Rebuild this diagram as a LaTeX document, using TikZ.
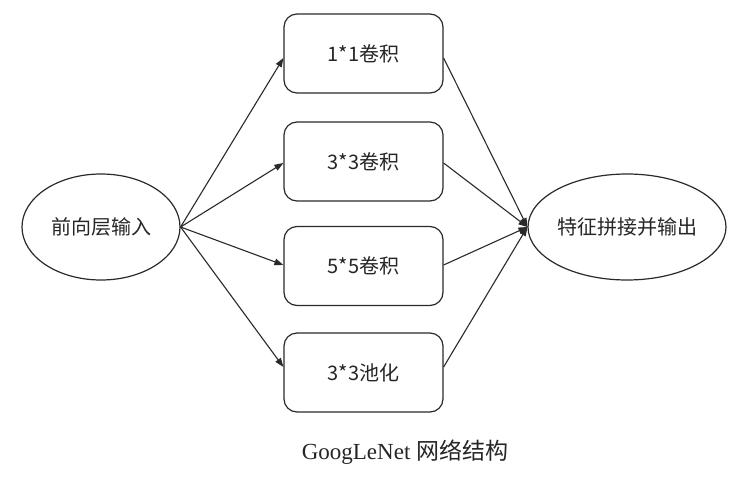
\documentclass[tikz,border=0pt]{standalone}
\usepackage{fontspec}
\setmainfont{Liberation Serif}
\newfontfamily\cjk{Noto Sans CJK SC}
\usetikzlibrary{arrows.meta,shapes.geometric}
\definecolor{ln}{HTML}{2A2A2A}
\begin{document}
\begin{tikzpicture}[x=1pt,y=-1pt,
  ell/.style={ellipse,draw=ln,line width=1.2pt,inner sep=0pt,minimum width=#1,minimum height=106pt,font=\cjk\fontsize{20}{24}\selectfont,text=black!85},
  procbox/.style={rectangle,rounded corners=13pt,draw=ln,line width=1.2pt,minimum width=159pt,minimum height=79pt,font=\cjk\fontsize{20}{24}\selectfont,text=black!85},
  conn/.style={draw=ln,line width=1.1pt,-{Triangle[length=9pt,width=6.5pt]}}]
\useasboundingbox[fill=white] (0,0) rectangle (736,482);
\node[ell=158pt] (in) at (101,227) {前向层输入};
\node[ell=160pt] (out) at (627,227) {特征拼接并输出};
\node[procbox] (b1) at (363.5,53.5) {1*1卷积};
\node[procbox] (b2) at (363.5,161.5) {3*3卷积};
\node[procbox] (b3) at (363.5,266) {5*5卷积};
\node[procbox] (b4) at (363.5,372.5) {3*3池化};
\draw[conn] (in.east) -- ([yshift=-4.5pt]b1.west);
\draw[conn] (in.east) -- ([yshift=-1.5pt]b2.west);
\draw[conn] (in.east) -- ([yshift=1pt]b3.west);
\draw[conn] (in.east) -- ([yshift=5.5pt]b4.west);
\draw[conn] ([yshift=-4.5pt]b1.east) -- (out.west);
\draw[conn] ([yshift=-1.5pt]b2.east) -- (out.west);
\draw[conn] ([yshift=1pt]b3.east) -- (out.west);
\draw[conn] ([yshift=5.5pt]b4.east) -- (out.west);
\node[font=\fontsize{23}{27}\selectfont,text=black!85] (cap) at (405,452) {GoogLeNet {\cjk 网络结构}};
\end{tikzpicture}
\end{document}
